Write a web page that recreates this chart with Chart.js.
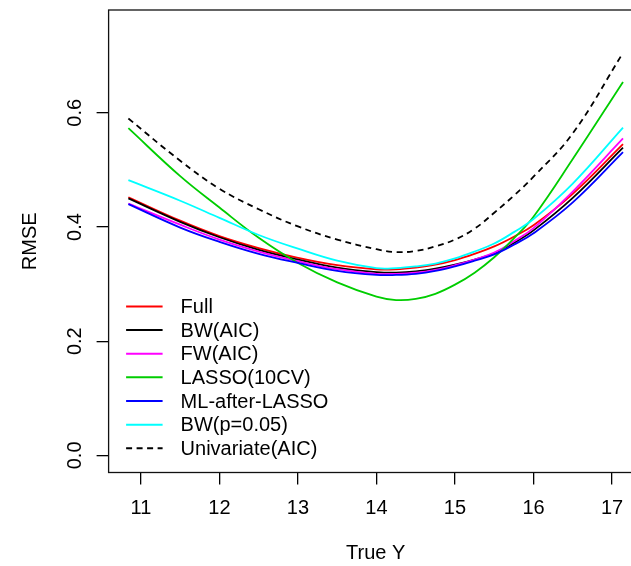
<!DOCTYPE html>
<html>
<head>
<meta charset="utf-8">
<style>
  html, body { margin: 0; padding: 0; background: #fff; overflow: hidden; width: 631px; height: 566px; }
  canvas { display: block; }
</style>
<script src="https://cdn.jsdelivr.net/npm/chart.js@4.4.1/dist/chart.umd.min.js"></script>
</head>
<body>
<canvas id="rmse" width="660" height="566"></canvas>
<script>
// True Y grid on which each method's RMSE curve is evaluated
const trueY = [10.84, 11.5, 12.0, 12.5, 13.0, 13.5, 14.0, 14.25, 14.5, 14.75, 15.0, 15.25, 15.5, 15.75, 16.0, 16.5, 17.14];

const rmseFull       = [0.452, 0.411, 0.384, 0.363, 0.346, 0.333, 0.326, 0.326, 0.329, 0.334, 0.342, 0.353, 0.366, 0.383, 0.403, 0.458, 0.545];
const rmseBwAic      = [0.450, 0.409, 0.382, 0.360, 0.343, 0.329, 0.321, 0.320, 0.322, 0.327, 0.334, 0.343, 0.354, 0.372, 0.394, 0.451, 0.539];
const rmseFwAic      = [0.441, 0.404, 0.378, 0.357, 0.340, 0.326, 0.318, 0.318, 0.320, 0.325, 0.333, 0.343, 0.355, 0.375, 0.398, 0.462, 0.555];
const rmseLasso      = [0.573, 0.489, 0.434, 0.381, 0.337, 0.303, 0.278, 0.272, 0.274, 0.283, 0.299, 0.320, 0.347, 0.380, 0.418, 0.519, 0.654];
const rmseMlLasso    = [0.440, 0.399, 0.374, 0.353, 0.337, 0.323, 0.316, 0.316, 0.318, 0.323, 0.331, 0.341, 0.352, 0.369, 0.389, 0.443, 0.531];
const rmseBwP        = [0.482, 0.446, 0.416, 0.386, 0.362, 0.341, 0.328, 0.328, 0.331, 0.336, 0.345, 0.357, 0.371, 0.391, 0.414, 0.476, 0.574];
const rmseUnivariate = [0.590, 0.516, 0.467, 0.431, 0.401, 0.378, 0.361, 0.356, 0.358, 0.366, 0.378, 0.397, 0.425, 0.455, 0.488, 0.564, 0.705];

const seriesLabels = ['Full', 'BW(AIC)', 'FW(AIC)', 'LASSO(10CV)', 'ML-after-LASSO', 'BW(p=0.05)', 'Univariate(AIC)'];
const seriesValues = [rmseFull, rmseBwAic, rmseFwAic, rmseLasso, rmseMlLasso, rmseBwP, rmseUnivariate];
const seriesColors = ['#FF0000', '#000000', '#FF00FF', '#00CD00', '#0000FF', '#00FFFF', '#000000'];
const seriesDashes = [[], [], [], [], [], [], [6, 4.5]];

const xTicks = [11, 12, 13, 14, 15, 16, 17];
const yTicks = [0.0, 0.2, 0.4, 0.6];
const yTickLabels = ['0.0', '0.2', '0.4', '0.6'];

const FONT = { family: '"Liberation Sans", Arial, Helvetica, sans-serif', size: 20 };
const LINE_W = 1.8;

// Box around the plotting region
const boxPlugin = {
  id: 'plotBox',
  afterDraw(chart) {
    const { ctx, chartArea: a } = chart;
    ctx.save();
    ctx.strokeStyle = '#111';
    ctx.lineWidth = 1.3;
    ctx.strokeRect(a.left, a.top, a.right - a.left, a.bottom - a.top);
    ctx.restore();
  }
};

// Legend drawn inside the plot, bottom-left, without a frame
const insideLegend = {
  id: 'insideLegend',
  afterDraw(chart) {
    const { ctx, chartArea: a } = chart;
    const sets = chart.data.datasets;
    const x0 = a.left + 17.5, x1 = a.left + 54, xt = a.left + 72;
    const rowH = 23.65, y0 = 306.4;
    ctx.save();
    ctx.font = `${FONT.size}px ${FONT.family}`;
    ctx.textBaseline = 'middle';
    ctx.textAlign = 'left';
    sets.forEach((ds, i) => {
      const y = y0 + i * rowH;
      ctx.strokeStyle = ds.borderColor;
      ctx.lineWidth = 2;
      ctx.setLineDash(ds.borderDash || []);
      ctx.beginPath();
      ctx.moveTo(x0, y);
      ctx.lineTo(x1, y);
      ctx.stroke();
      ctx.setLineDash([]);
      ctx.fillStyle = '#000';
      ctx.fillText(ds.label, xt, y + 1);
    });
    ctx.restore();
  }
};

const datasets = seriesLabels.map((label, i) => ({
  label,
  data: trueY.map((x, j) => ({ x, y: seriesValues[i][j] })),
  borderColor: seriesColors[i],
  borderDash: seriesDashes[i],
  borderWidth: LINE_W,
  pointRadius: 0,
  tension: 0.4,
  fill: false,
  order: seriesLabels.length - i
}));

new Chart(document.getElementById('rmse'), {
  type: 'line',
  data: { datasets },
  plugins: [boxPlugin, insideLegend],
  options: {
    responsive: false,
    animation: false,
    devicePixelRatio: 1,
    layout: { padding: { top: 10, right: 17.2, left: 0, bottom: 0 } },
    plugins: { legend: { display: false }, tooltip: { enabled: false } },
    scales: {
      x: {
        type: 'linear',
        min: 10.588,
        max: 17.392,
        afterBuildTicks: s => { s.ticks = xTicks.map(v => ({ value: v })); },
        afterFit: s => { s.height = 93.5; s.paddingLeft = 0; s.paddingRight = 0; },
        border: { display: false },
        grid: { display: true, drawOnChartArea: false, drawTicks: true, tickLength: 12, color: '#000', lineWidth: 1.3 },
        ticks: { autoSkip: false, maxRotation: 0, font: FONT, color: '#000', padding: 11.5,
                 callback: v => String(v) },
        title: { display: true, text: 'True Y', font: FONT, color: '#000', padding: { top: 0, bottom: 1 } }
      },
      y: {
        type: 'linear',
        min: -0.03,
        max: 0.78,
        afterBuildTicks: s => { s.ticks = yTicks.map(v => ({ value: v })); },
        afterFit: s => { s.width = 108.6; s.paddingTop = 0; s.paddingBottom = 0; },
        border: { display: false },
        grid: { display: true, drawOnChartArea: false, drawTicks: true, tickLength: 12, color: '#000', lineWidth: 1.3 },
        ticks: { autoSkip: false, minRotation: 90, maxRotation: 90, crossAlign: 'center',
                 font: FONT, color: '#000', padding: 7.7,
                 callback: (v) => yTickLabels[yTicks.findIndex(t => Math.abs(t - v) < 1e-9)] },
        title: { display: true, text: 'RMSE', font: FONT, color: '#000', padding: { top: 18, bottom: 0 } }
      }
    }
  }
});
</script>
</body>
</html>
